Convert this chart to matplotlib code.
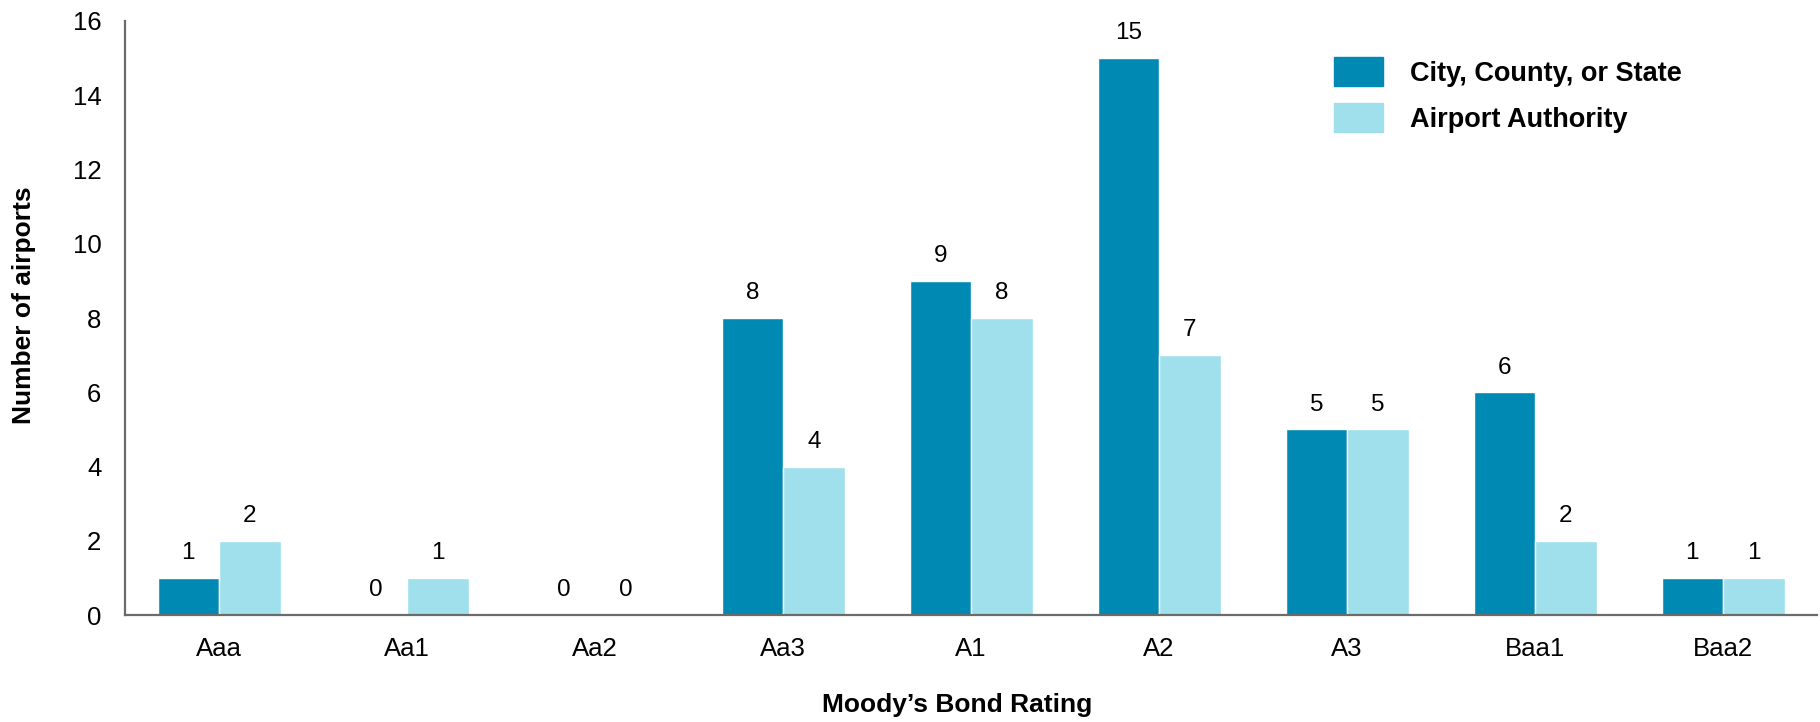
import numpy as np
import matplotlib
matplotlib.use("Agg")
import matplotlib.pyplot as plt
from matplotlib.patches import Patch

plt.rcParams['font.family'] = ['Liberation Sans', 'DejaVu Sans']

ratings = ['Aaa', 'Aa1', 'Aa2', 'Aa3', 'A1', 'A2', 'A3', 'Baa1', 'Baa2']
government = [1, 0, 0, 8, 9, 15, 5, 6, 1]
authority = [2, 1, 0, 4, 8, 7, 5, 2, 1]
series_names = ['City, County, or State', 'Airport Authority']
colors = ['#0089b3', '#9fe0ec']

fig = plt.figure(figsize=(18.2, 7.22), dpi=100)
ax = fig.add_axes([0.0687, 0.148, 0.9297, 0.823])

x = np.arange(len(ratings))
w = 0.327
b1 = ax.bar(x - w / 2, government, w, color=colors[0], edgecolor='white', linewidth=1)
b2 = ax.bar(x + w / 2, authority, w, color=colors[1], edgecolor='white', linewidth=1)

# value labels above each bar (zeros included)
for bars, vals in ((b1, government), (b2, authority)):
    for rect, v in zip(bars, vals):
        ax.annotate(str(v), (rect.get_x() + rect.get_width() / 2, v),
                    xytext=(0, 13.5), textcoords='offset points',
                    ha='center', va='baseline', fontsize=17.5)

ax.set_xlim(-0.5, 8.5)
ax.set_ylim(0, 16)
ax.set_yticks(range(0, 17, 2))
ax.set_xticks(x)
ax.set_xticklabels(ratings)
ax.tick_params(axis='both', length=0, labelsize=18.5)
ax.tick_params(axis='x', pad=16)
ax.tick_params(axis='y', pad=17)

for side in ('top', 'right'):
    ax.spines[side].set_visible(False)
for side in ('left', 'bottom'):
    ax.spines[side].set_color('#6b6b6b')
    ax.spines[side].set_linewidth(1.6)

ax.set_ylabel('Number of airports', fontsize=19, fontweight='bold', va='center')
ax.yaxis.set_label_coords(-0.0597, 0.522)
ax.set_xlabel('Moody\u2019s Bond Rating', fontsize=19, fontweight='bold', va='center')
ax.xaxis.set_label_coords(0.4917, -0.1515)

handles = [Patch(color=colors[0]), Patch(color=colors[1])]
leg = ax.legend(handles, series_names, loc='upper left', bbox_to_anchor=(0.70, 0.98),
                frameon=False, prop={'size': 19.5, 'weight': 'bold'},
                handlelength=1.81, handleheight=1.28, handletextpad=1.0,
                labelspacing=0.6)

fig.savefig('out.png', dpi=100)
